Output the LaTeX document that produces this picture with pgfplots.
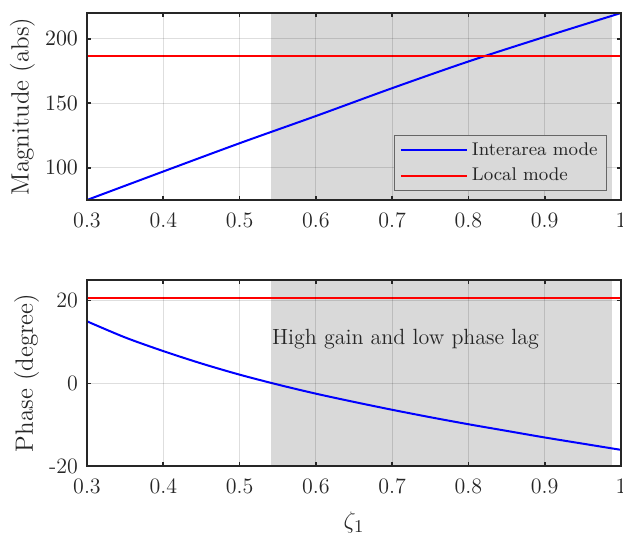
\documentclass[border=0pt]{standalone}
\usepackage{pgfplots}
\pgfplotsset{compat=1.18}
\definecolor{shade}{rgb}{0.851,0.851,0.851}
\definecolor{axdark}{rgb}{0.15,0.15,0.15}
\pgfplotsset{
  myaxis/.style={
    scale only axis,
    width=267pt,
    xmin=0.3, xmax=1,
    xtick={0.3,0.4,0.5,0.6,0.7,0.8,0.9,1},
    xticklabels={0.3,0.4,0.5,0.6,0.7,0.8,0.9,1},
    axis on top,
    axis line style={axdark, line width=0.8pt},
    tick style={axdark, line width=0.8pt},
    major tick length=2.2pt,
    tick align=inside,
    xtick pos=both, ytick pos=both,
    grid=major,
    major grid style={black, opacity=0.13, line width=0.45pt},
    ticklabel style={font=\fontsize{11}{12}\selectfont, text=axdark},
    label style={font=\fontsize{12.5}{14}\selectfont, text=axdark},
    xticklabel style={yshift=-3pt},
    yticklabel style={xshift=-1pt},
  }
}
\begin{document}
\begin{tikzpicture}
\begin{axis}[myaxis,
  at={(0,0)}, anchor=south west,
  height=93.5pt,
  ymin=75, ymax=220,
  ytick={100,150,200},
  ylabel={Magnitude (abs)},
  ylabel style={at={(axis description cs:-0.121,0.5)}, anchor=center},
  legend style={at={(axis description cs:0.974,0.048)}, anchor=south east,
    fill=shade, draw=black!60, line width=0.5pt,
    font=\fontsize{9.2}{11}\selectfont, text=axdark,
    row sep=0.7pt, inner xsep=2.5pt, inner ysep=1.5pt},
  legend cell align=left,
  legend image code/.code={\draw[#1] (0pt,0pt) -- (33pt,0pt);},
]
\addplot[fill=shade, draw=none, forget plot] coordinates {(0.541,75) (0.988,75) (0.988,220) (0.541,220)} -- cycle;
\addplot[blue, line width=1pt, smooth] coordinates {
(0.3,75) (0.4,97.1) (0.5,119) (0.6,140.1) (0.7,161.7) (0.8,182.4) (0.9,201.5) (1,220)};
\addlegendentry{Interarea mode}
\addplot[red, line width=1pt] coordinates {(0.3,187) (1,187)};
\addlegendentry{Local mode}
\end{axis}
\begin{axis}[myaxis,
  at={(0,-133pt)}, anchor=south west,
  height=93pt,
  ymin=-20, ymax=25,
  ytick={-20,0,20},
  yticklabels={-20,0,20},
  ylabel={Phase (degree)},
  ylabel style={at={(axis description cs:-0.113,0.5)}, anchor=center},
  xlabel={$\zeta_1$},
  xlabel style={yshift=-2pt},
]
\addplot[fill=shade, draw=none, forget plot] coordinates {(0.541,-20) (0.988,-20) (0.988,25) (0.541,25)} -- cycle;
\addplot[blue, line width=1pt, smooth] coordinates {
(0.3,15.0) (0.35,11.1) (0.4,7.8) (0.45,4.8) (0.5,2.1) (0.55,-0.3) (0.6,-2.5) (0.65,-4.5) (0.7,-6.4) (0.75,-8.2) (0.8,-9.9) (0.85,-11.5) (0.9,-13.1) (0.95,-14.6) (1,-16.1)};
\addplot[red, line width=1pt] coordinates {(0.3,20.6) (1,20.6)};
\node[anchor=west, font=\fontsize{11}{12}\selectfont, text=axdark, inner sep=0pt] at (axis cs:0.542,10.7) {High gain and low phase lag};
\end{axis}
\pgfresetboundingbox
\path[use as bounding box] (-43.5pt,-166.5pt) rectangle (268pt,100pt);
\end{tikzpicture}
\end{document}
